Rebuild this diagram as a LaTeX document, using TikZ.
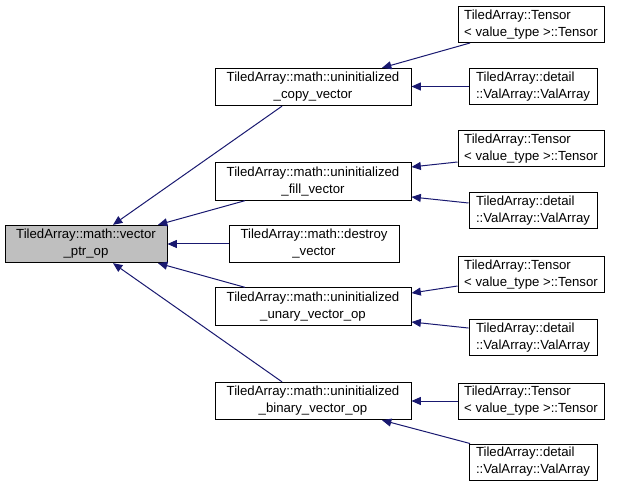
\documentclass[tikz,border=0pt]{standalone}
\usepackage{fontspec}
\setmainfont{Liberation Sans}
\usetikzlibrary{arrows.meta}
\definecolor{edgeblue}{HTML}{191970}
\definecolor{boxgray}{HTML}{BFBFBF}
\begin{document}
\begin{tikzpicture}[x=0.75pt,y=-0.75pt,
  box/.style={draw=black, line width=0.75pt, inner sep=0pt, align=center,
    font=\fontsize{9.9}{12.75}\selectfont, minimum height=28pt},
  midbox/.style={box, minimum width=147pt},
  rbox/.style={box, align=left, minimum height=27pt},
  tbox/.style={rbox, minimum width=109.5pt},
  vbox/.style={rbox, minimum width=96pt},
  edge/.style={draw=edgeblue, line width=0.75pt, -{Triangle[length=7pt,width=6pt]}}]
\useasboundingbox (0,0) rectangle (621,488);

\node[box, fill=boxgray, minimum width=121.5pt] (vptr) at (86,244) {TiledArray::math::vector\\\_ptr\_op};
\node[midbox] (copy) at (313,87) {TiledArray::math::uninitialized\\\_copy\_vector};
\node[midbox] (fill) at (313,181.5) {TiledArray::math::uninitialized\\\_fill\_vector};
\node[box, minimum width=127.5pt] (destroy) at (314,244) {TiledArray::math::destroy\\\_vector};
\node[midbox] (unary) at (313,306.5) {TiledArray::math::uninitialized\\\_unary\_vector\_op};
\node[midbox] (binary) at (313,401) {TiledArray::math::uninitialized\\\_binary\_vector\_op};

\node[tbox] (t1) at (531,24.5) {TiledArray::Tensor\\< value\_type >::Tensor};
\node[vbox] (va1) at (533,86.5) {TiledArray::detail\\::ValArray::ValArray};
\node[tbox] (t2) at (531,149) {TiledArray::Tensor\\< value\_type >::Tensor};
\node[vbox] (va2) at (533,211) {TiledArray::detail\\::ValArray::ValArray};
\node[tbox] (t3) at (531,275) {TiledArray::Tensor\\< value\_type >::Tensor};
\node[vbox] (va3) at (533,337.5) {TiledArray::detail\\::ValArray::ValArray};
\node[tbox] (t4) at (531,401) {TiledArray::Tensor\\< value\_type >::Tensor};
\node[vbox] (va4) at (533,462) {TiledArray::detail\\::ValArray::ValArray};

% edges into vector_ptr_op
\draw[edge] ([xshift=-23.25pt]copy.south) -- ([xshift=20.25pt]vptr.north);
\draw[edge] ([xshift=-51pt]fill.south) -- ([xshift=54pt]vptr.north);
\draw[edge] (destroy.west) -- (vptr.east);
\draw[edge] ([xshift=-51pt]unary.north) -- ([xshift=54pt]vptr.south);
\draw[edge] ([xshift=-23.25pt]binary.north) -- ([xshift=20.25pt]vptr.south);

% edges into middle column
\draw[edge] ([xshift=-45.75pt]t1.south) -- ([xshift=51.75pt]copy.north);
\draw[edge] (va1.west) -- (va1.west -| copy.east);
\draw[edge] ([yshift=-9.75pt]t2.west) -- ([yshift=10.9pt]fill.east);
\draw[edge] ([yshift=6pt]va2.west) -- ([yshift=-11.6pt]fill.east);
\draw[edge] ([yshift=-8.25pt]t3.west) -- ([yshift=10.1pt]unary.east);
\draw[edge] ([yshift=7.1pt]va3.west) -- ([yshift=-11.6pt]unary.east);
\draw[edge] (t4.west) -- (t4.west -| binary.east);
\draw[edge] ([xshift=-47.25pt]va4.north) -- ([xshift=51.75pt]binary.south);
\end{tikzpicture}
\end{document}
